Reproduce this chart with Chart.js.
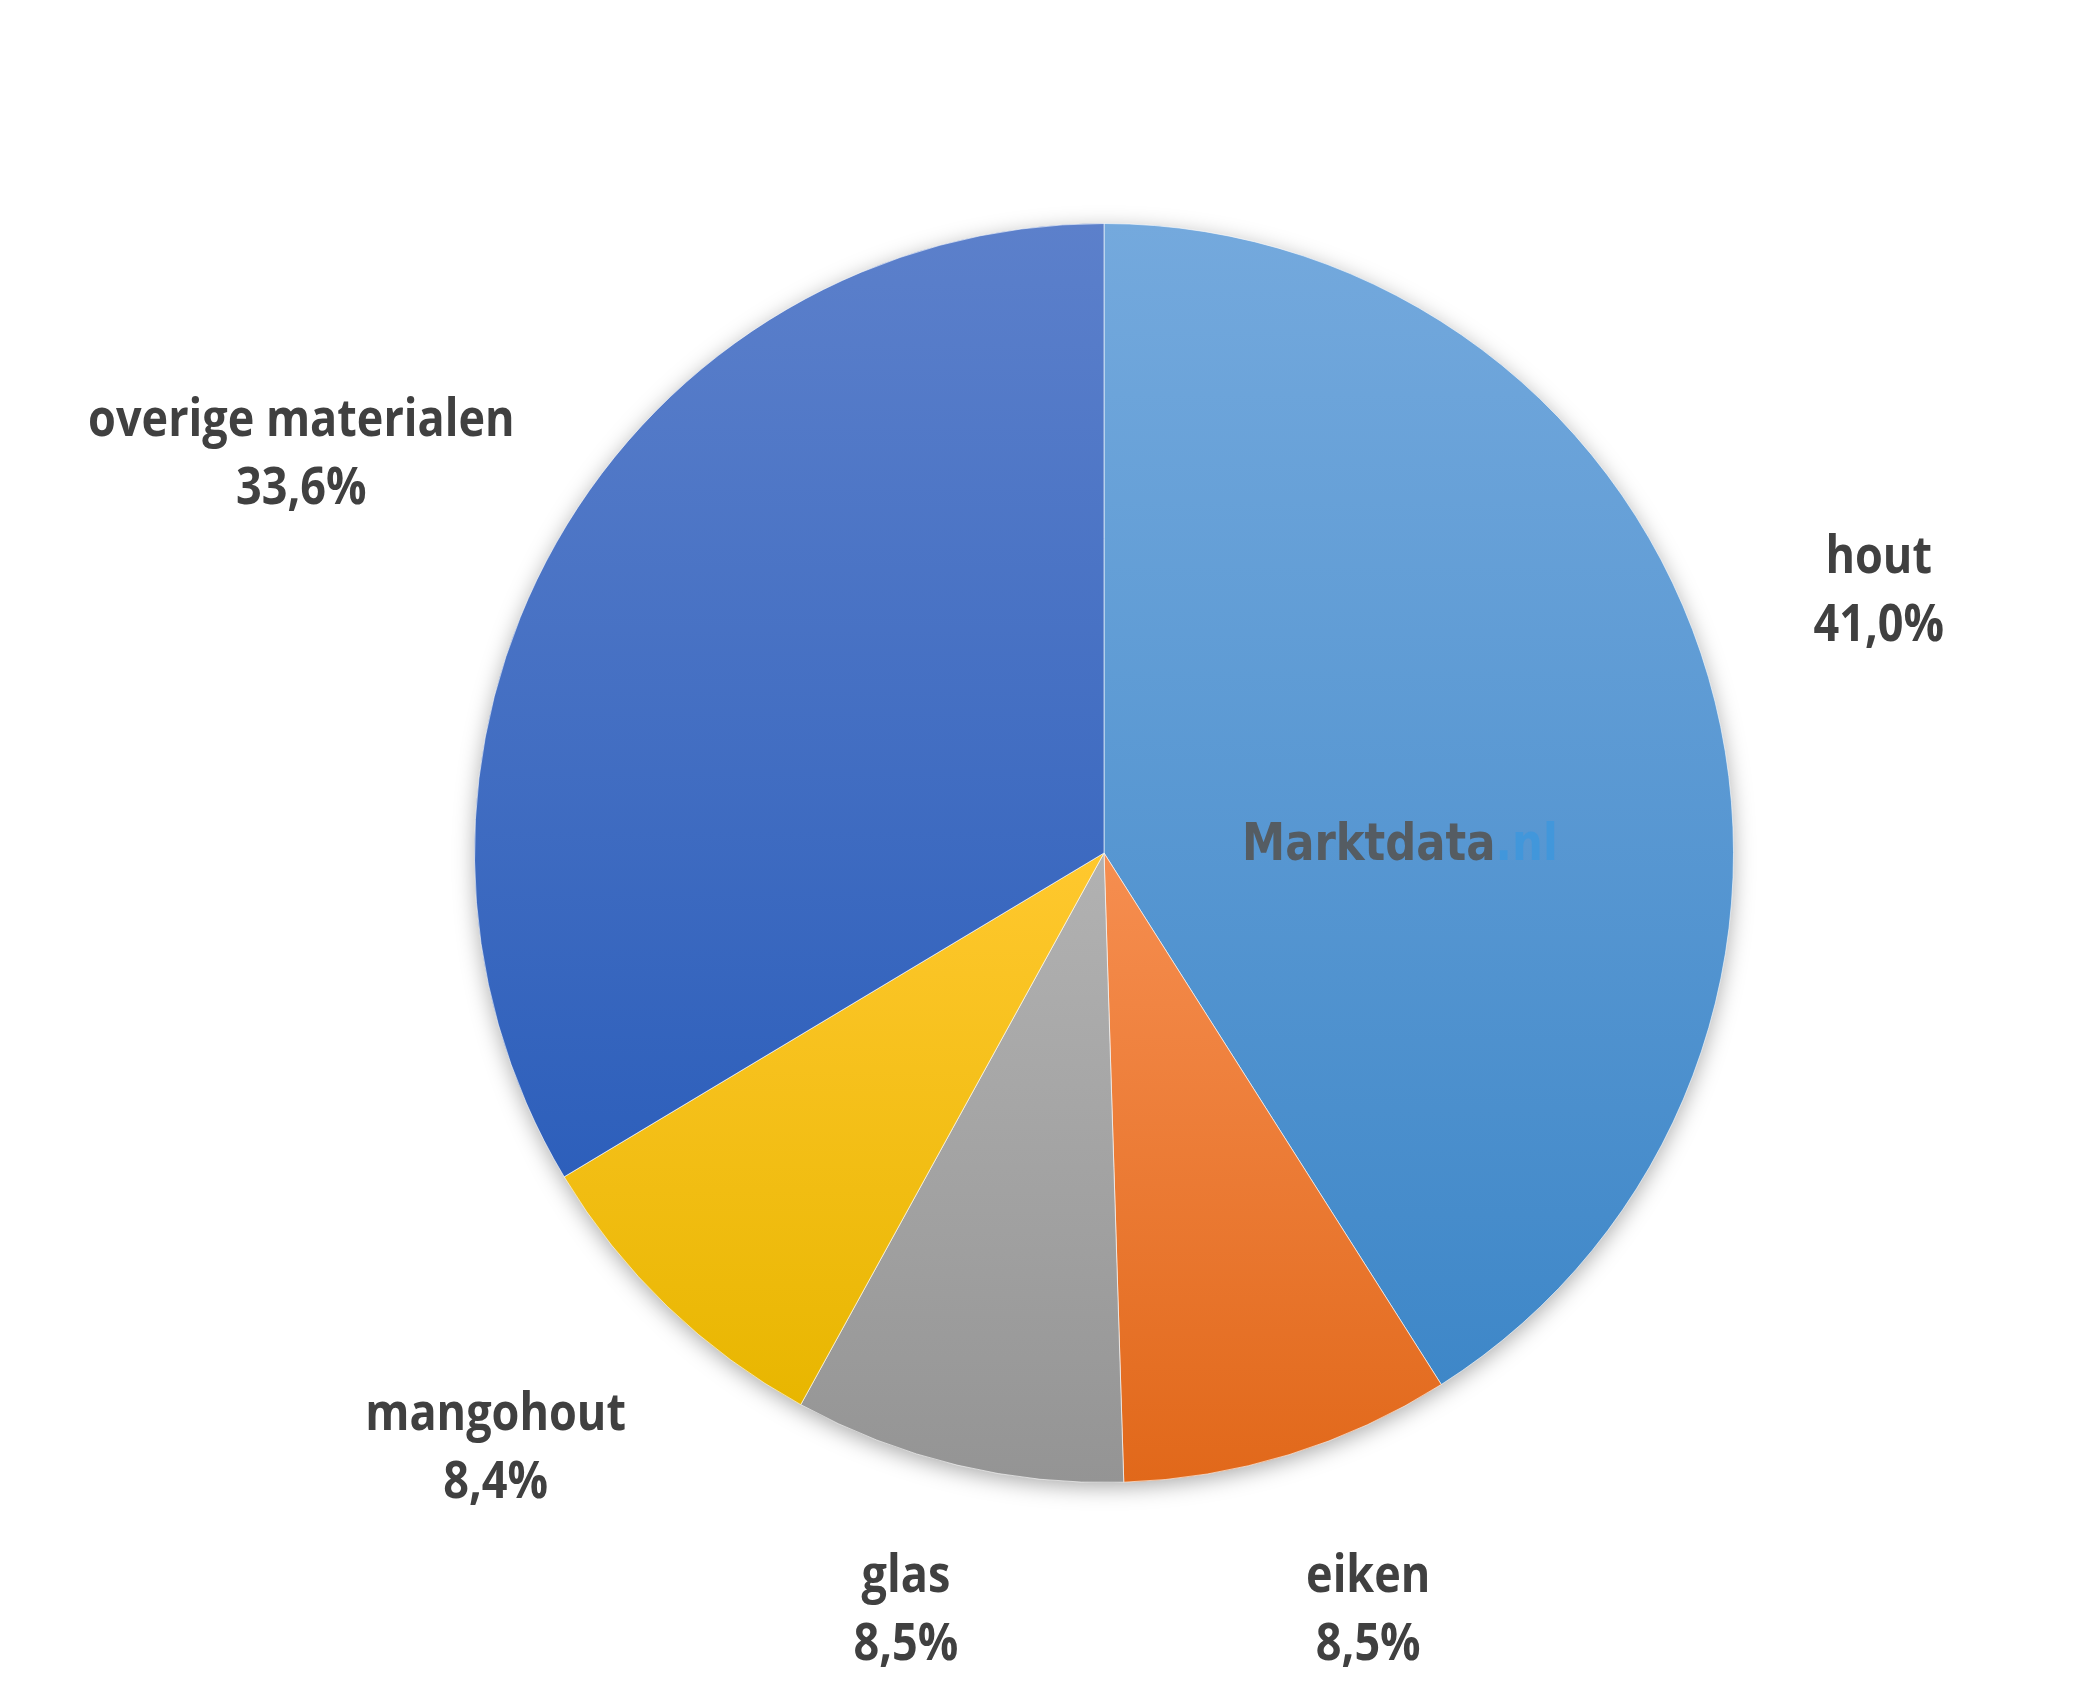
<!DOCTYPE html>
<html lang="nl">
<head>
    <meta charset="UTF-8">
    <title>Materialen</title>
    <script src="https://cdn.jsdelivr.net/npm/chart.js"></script>
    <style>
        html, body {
            margin: 0;
            padding: 0;
            background-color: #ffffff;
        }
        .chart-container {
            width: 2079px;
            height: 1681px;
        }
    </style>
</head>
<body>

<div class="chart-container">
    <canvas id="materialenChart" width="2079" height="1681"></canvas>
</div>

<script>
    // data, clockwise from 12 o'clock
    const labels = ['hout', 'eiken', 'glas', 'mangohout', 'overige materialen'];
    const shares = [41.0, 8.5, 8.5, 8.4, 33.6];

    // light (top) / dark (bottom) colour per slice
    const topColors = ['#74a9dd', '#f68e50', '#b2b2b2', '#ffc82e', '#5c80cb'];
    const bottomColors = ['#3e87c8', '#e1681a', '#949494', '#e8b600', '#2d5fbb'];

    // label placement: distance as factor of the radius, angle tweak in degrees
    const labelDist = [1.30, 1.27, 1.24, 1.35, 1.425];
    const labelTurn = [-2.6, -2.2, 1.2, 1.8, -3.0];

    const labelFont = 'bold 52px "Open Sans"';
    const labelScaleX = 0.865;
    const textColor = '#404040';

    function formatShare(v) {
        return v.toFixed(1).replace('.', ',') + '%';
    }

    function sliceGradient(context) {
        const chart = context.chart;
        const area = chart.chartArea;
        const i = context.dataIndex;
        if (!area || i === undefined) {
            return topColors[i] || '#999';
        }
        const cx = (area.left + area.right) / 2;
        const cy = (area.top + area.bottom) / 2;
        const r = Math.min(area.width, area.height) / 2;
        const total = shares.reduce((a, b) => a + b, 0);
        let before = 0;
        for (let k = 0; k < i; k++) before += shares[k];
        const a0 = -Math.PI / 2 + 2 * Math.PI * before / total;
        const a1 = a0 + 2 * Math.PI * shares[i] / total;
        const ys = [cy, cy + r * Math.sin(a0), cy + r * Math.sin(a1)];
        [-Math.PI / 2, Math.PI / 2, 3 * Math.PI / 2].forEach(k => {
            if (k >= a0 && k <= a1) ys.push(cy + r * Math.sin(k));
        });
        const y0 = Math.min(...ys);
        const y1 = Math.max(...ys);
        const g = chart.ctx.createLinearGradient(0, y0, 0, y1);
        g.addColorStop(0, topColors[i]);
        g.addColorStop(1, bottomColors[i]);
        return g;
    }

    const shadowPlugin = {
        id: 'pieShadow',
        beforeDatasetsDraw(chart) {
            const arc = chart.getDatasetMeta(0).data[0];
            if (!arc) return;
            const {x, y, outerRadius} = arc.getProps(['x', 'y', 'outerRadius'], true);
            const ctx = chart.ctx;
            ctx.save();
            ctx.shadowColor = 'rgba(0, 0, 0, 0.35)';
            ctx.shadowBlur = 22;
            ctx.shadowOffsetY = 5;
            ctx.fillStyle = '#ffffff';
            ctx.beginPath();
            ctx.arc(x, y, outerRadius - 1, 0, Math.PI * 2);
            ctx.fill();
            ctx.restore();
        }
    };

    const labelPlugin = {
        id: 'outsideLabels',
        afterDatasetsDraw(chart) {
            const ctx = chart.ctx;
            const arcs = chart.getDatasetMeta(0).data;
            arcs.forEach((arc, i) => {
                const p = arc.getProps(['x', 'y', 'startAngle', 'endAngle', 'outerRadius'], true);
                const mid = (p.startAngle + p.endAngle) / 2 + labelTurn[i] * Math.PI / 180;
                const d = p.outerRadius * labelDist[i];
                const lx = p.x + Math.cos(mid) * d;
                const ly = p.y + Math.sin(mid) * d;
                ctx.save();
                ctx.translate(lx, ly);
                ctx.scale(labelScaleX, 1);
                ctx.font = labelFont;
                ctx.fillStyle = textColor;
                ctx.textAlign = 'center';
                ctx.textBaseline = 'alphabetic';
                ctx.fillText(labels[i], 0, -16);
                ctx.fillText(formatShare(shares[i]), 0, 52);
                ctx.restore();
            });

            // watermark
            const c = arcs[0].getProps(['x', 'y'], true);
            ctx.save();
            ctx.font = 'bold 51px "DejaVu Sans"';
            ctx.textBaseline = 'alphabetic';
            ctx.textAlign = 'left';
            ctx.translate(c.x + 138, c.y + 7);
            ctx.scale(0.85, 1);
            ctx.fillStyle = 'rgba(85, 85, 85, 0.9)';
            ctx.fillText('Marktdata', 0, 0);
            const w = ctx.measureText('Marktdata').width;
            ctx.fillStyle = 'rgba(40, 150, 230, 0.45)';
            ctx.fillText('.nl', w, 0);
            ctx.restore();
        }
    };

    const ctx = document.getElementById('materialenChart').getContext('2d');
    new Chart(ctx, {
        type: 'pie',
        data: {
            labels: labels,
            datasets: [{
                data: shares,
                backgroundColor: sliceGradient,
                borderColor: 'rgba(255, 255, 255, 0.6)',
                borderWidth: 1
            }]
        },
        options: {
            responsive: false,
            devicePixelRatio: 1,
            animation: false,
            layout: {
                padding: {left: 474, right: 345, top: 223, bottom: 198}
            },
            plugins: {
                legend: {display: false},
                tooltip: {enabled: false}
            }
        },
        plugins: [shadowPlugin, labelPlugin]
    });
</script>

</body>
</html>
